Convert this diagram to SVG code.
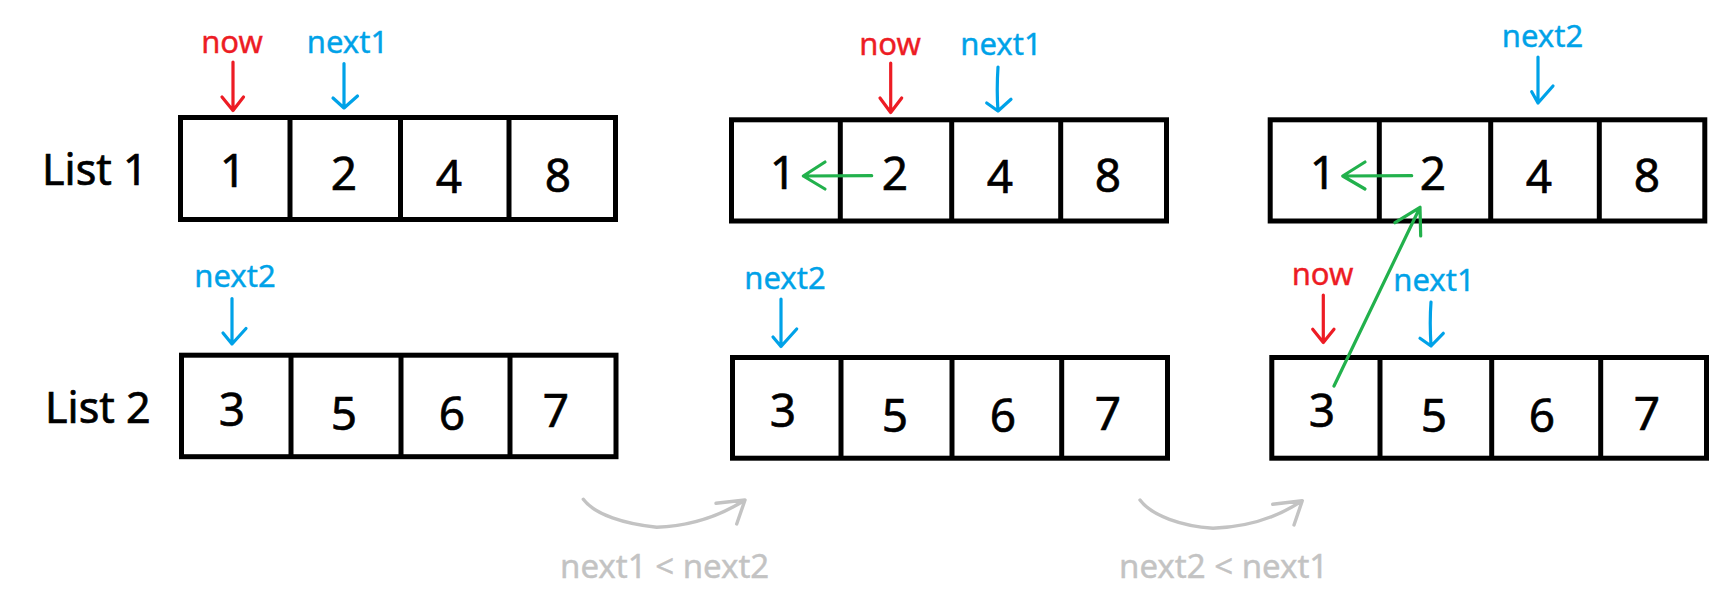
<svg xmlns="http://www.w3.org/2000/svg" width="1735" height="607" viewBox="0 0 1735 607">
<style>
.box{fill:#fff;stroke:#000;stroke-width:5}
.div{stroke:#000;stroke-width:5}
.num{font-family:"Noto Sans","Liberation Sans",sans-serif;font-size:46px;fill:#000;stroke:#000;stroke-width:0.6;text-anchor:middle}
.lst{font-family:"Noto Sans","Liberation Sans",sans-serif;font-size:43px;fill:#000;stroke:#000;stroke-width:0.7}
.lbl{font-family:"Noto Sans","Liberation Sans",sans-serif;font-size:31px;text-anchor:middle;stroke-width:0.4}
.red{fill:#ed1c24;stroke:#ed1c24}
.blue{fill:#00a2e8;stroke:#00a2e8}
.gtxt{font-family:"Noto Sans","Liberation Sans",sans-serif;font-size:33px;fill:#c3c3c3;stroke:#c3c3c3;stroke-width:0.4}
.ar{fill:none;stroke-width:3.2;stroke-linecap:round;stroke-linejoin:round}
.ar-red{stroke:#ed1c24}
.ar-blue{stroke:#00a2e8}
.ar-green{stroke:#22b14c}
.ar-gray{stroke:#c3c3c3;stroke-width:3.4}
</style>
<rect width="1735" height="607" fill="#fff"/>

<g id="label-list1"><text class="lst" x="42" y="185">List 1</text></g>
<g id="label-list2"><text class="lst" x="45" y="423">List 2</text></g>

<g id="p1-list1">
<rect class="box" x="180.5" y="117.5" width="435" height="102"/>
<line class="div" x1="290" y1="117" x2="290" y2="220"/>
<line class="div" x1="400.5" y1="117" x2="400.5" y2="220"/>
<line class="div" x1="509" y1="117" x2="509" y2="220"/>
<text class="num" x="233" y="187">1</text>
<text class="num" x="344" y="190">2</text>
<text class="num" x="449" y="193">4</text>
<text class="num" x="558" y="192">8</text>
</g>
<g id="p1-list2">
<rect class="box" x="181.5" y="355.2" width="434.5" height="101.5"/>
<line class="div" x1="291" y1="355" x2="291" y2="457"/>
<line class="div" x1="401" y1="355" x2="401" y2="457"/>
<line class="div" x1="510" y1="355" x2="510" y2="457"/>
<text class="num" x="232" y="426">3</text>
<text class="num" x="344" y="430">5</text>
<text class="num" x="452" y="430">6</text>
<text class="num" x="556" y="427">7</text>
</g>

<g id="p2-list1">
<rect class="box" x="731.5" y="119.8" width="435" height="101.2"/>
<line class="div" x1="840.3" y1="119.5" x2="840.3" y2="221"/>
<line class="div" x1="951.7" y1="119.5" x2="951.7" y2="221"/>
<line class="div" x1="1060.7" y1="119.5" x2="1060.7" y2="221"/>
<text class="num" x="783" y="189">1</text>
<text class="num" x="895" y="190">2</text>
<text class="num" x="1000" y="193">4</text>
<text class="num" x="1108" y="192">8</text>
</g>
<g id="p2-list2">
<rect class="box" x="732.5" y="357.5" width="435" height="100.7"/>
<line class="div" x1="841" y1="357" x2="841" y2="458.5"/>
<line class="div" x1="952" y1="357" x2="952" y2="458.5"/>
<line class="div" x1="1061.7" y1="357" x2="1061.7" y2="458.5"/>
<text class="num" x="783" y="427">3</text>
<text class="num" x="895" y="432">5</text>
<text class="num" x="1003" y="432">6</text>
<text class="num" x="1108" y="430">7</text>
</g>

<g id="p3-list1">
<rect class="box" x="1270.2" y="119.8" width="434.6" height="101.2"/>
<line class="div" x1="1379.3" y1="119.5" x2="1379.3" y2="221.5"/>
<line class="div" x1="1490.7" y1="119.5" x2="1490.7" y2="221.5"/>
<line class="div" x1="1599.3" y1="119.5" x2="1599.3" y2="221.5"/>
<text class="num" x="1323" y="189">1</text>
<text class="num" x="1433" y="190">2</text>
<text class="num" x="1539" y="193">4</text>
<text class="num" x="1647" y="192">8</text>
</g>
<g id="p3-list2">
<rect class="box" x="1271.8" y="357.5" width="434.7" height="100.7"/>
<line class="div" x1="1380" y1="357" x2="1380" y2="458.5"/>
<line class="div" x1="1491.7" y1="357" x2="1491.7" y2="458.5"/>
<line class="div" x1="1600.7" y1="357" x2="1600.7" y2="458.5"/>
<text class="num" x="1322" y="427">3</text>
<text class="num" x="1434" y="432">5</text>
<text class="num" x="1542" y="432">6</text>
<text class="num" x="1647" y="430">7</text>
</g>

<g id="pointer-labels">
<text class="lbl red" x="232" y="53">now</text>
<text class="lbl blue" x="347.5" y="53">next1</text>
<text class="lbl blue" x="235" y="287">next2</text>
<text class="lbl red" x="890" y="55">now</text>
<text class="lbl blue" x="1001" y="55">next1</text>
<text class="lbl blue" x="785" y="289">next2</text>
<text class="lbl blue" x="1542.5" y="47">next2</text>
<text class="lbl red" x="1322.5" y="285">now</text>
<text class="lbl blue" x="1434" y="291">next1</text>
</g>

<g id="step-labels">
<text class="gtxt" x="560" y="578">next1 &lt; next2</text>
<text class="gtxt" x="1119" y="578">next2 &lt; next1</text>
</g>

<g id="connectors">
<path class="ar ar-red" d="M233 62 L233 110.5 M222 97 L233 110.5 L243.5 97"/>
<path class="ar ar-blue" d="M344 63.5 L344 108 M333 98 L344 108 L357.5 96"/>
<path class="ar ar-blue" d="M232 298.5 L232 344 M223 333 L232 344 L246 328.5"/>

<path class="ar ar-red" d="M890.7 63 L890.7 112.5 M880 98 L890.7 112.5 L901.7 98"/>
<path class="ar ar-blue" d="M998 67 Q996.5 90 998 111 M986.7 103 L998 111 L1011 99.3"/>
<path class="ar ar-blue" d="M781 299 L781 346.5 M773 337 L781 346.5 L796.7 329"/>
<path class="ar ar-green" d="M871.7 175.7 L803.3 176 M825 162 L803.3 176 L825 189"/>

<path class="ar ar-blue" d="M1538 57 L1538 103 M1531.7 91.7 L1538 103 L1553 86"/>
<path class="ar ar-red" d="M1323.3 295 L1323.3 342.5 M1312.7 329.3 L1323.3 342.5 L1334 329.3"/>
<path class="ar ar-blue" d="M1431 302 Q1429.5 322 1431 346 M1420 338.3 L1431 346 L1443.3 333.3"/>
<path class="ar ar-green" d="M1411.7 175.7 L1342.7 176 M1365 162 L1342.7 176 L1365 189"/>
<path class="ar ar-green" d="M1334 386 L1420 207.3 M1395 222.7 L1420 207.3 L1420.7 236"/>

<path class="ar ar-gray" d="M583.3 499.3 C595 515 625 524 656.7 527.3 C690 526 720 516 745 500 M716 503.3 L745 500 L736.7 524"/>
<path class="ar ar-gray" d="M1140 500 C1152 516 1182 526 1213 528.3 C1248 527 1278 517 1302.3 500.7 M1272.7 504.3 L1302.3 500.7 L1294 525"/>
</g>
</svg>
